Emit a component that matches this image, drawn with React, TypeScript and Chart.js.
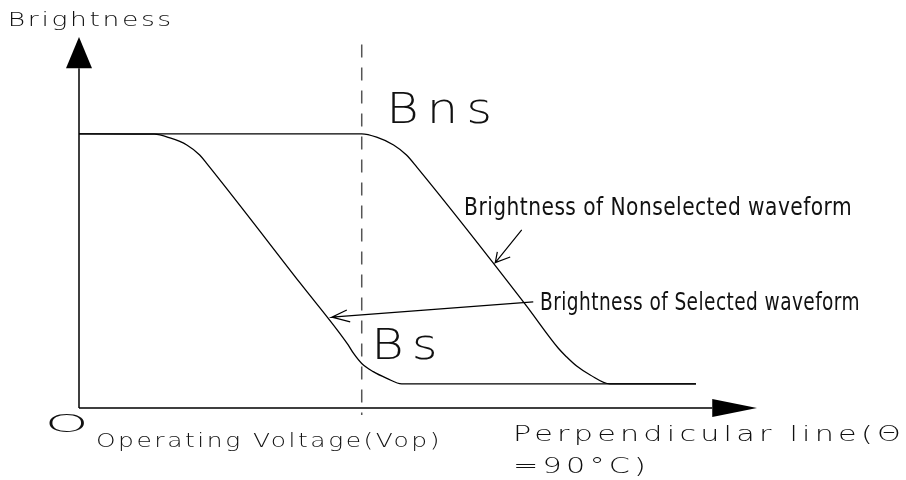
import React, { useEffect, useRef } from "react";
import { Chart, registerables } from "chart.js";

Chart.register(...registerables);

// Brightness curves (x: operating voltage, y: brightness; both 0..100)
const selectedX = [0, 11.1, 13.4, 15.9, 17.8, 18.8, 32.6, 39.7, 40.5, 41.7, 43.4, 45.4, 47.6, 91.0];
const selectedY = [73.9, 73.8, 72.8, 70.9, 68.2, 66.0, 33.7, 17.0, 14.7, 12.0, 9.8, 8.0, 6.5, 6.5];
const nonselectedX = [0, 41.7, 43.9, 46.4, 48.3, 49.8, 65.8, 70.7, 71.9, 73.4, 75.4, 78.3, 91.0];
const nonselectedY = [73.9, 73.9, 73.0, 70.9, 68.2, 65.0, 28.0, 16.1, 13.8, 11.3, 8.9, 6.5, 6.5];
const operatingVoltage = [41.7];
const axisMax = [100, 100];

const yTitle = "Brightness";
const bnsLabel = "Bns";
const bsLabel = "Bs";
const nonselLabel = "Brightness of Nonselected waveform";
const selLabel = "Brightness of Selected waveform";
const originLabel = "O";
const xLabel1 = "Operating Voltage(Vop)";
const xLabel2 = "Perpendicular line(\u0398";
const xLabel3 = "=90\u00B0C)";

const CAD = '"DejaVu Sans", sans-serif';
const NARROW = '"DejaVu Sans Condensed", "Liberation Sans", sans-serif';

const diagramPlugin = {
  id: "diagram",
  afterDatasetsDraw(chart: any) {
    const { ctx, scales } = chart;
    const px = (v: number) => scales.x.getPixelForValue(v);
    const py = (v: number) => scales.y.getPixelForValue(v);
    ctx.save();
    ctx.strokeStyle = "#000";
    ctx.fillStyle = "#000";
    ctx.lineWidth = 1.5;
    // axes
    ctx.beginPath();
    ctx.moveTo(px(0), py(0));
    ctx.lineTo(px(93.4), py(0));
    ctx.moveTo(px(0), py(0));
    ctx.lineTo(px(0), py(91.6));
    ctx.stroke();
    ctx.beginPath();
    ctx.moveTo(px(0), py(axisMax[1]));
    ctx.lineTo(px(0) - 13, py(91.6));
    ctx.lineTo(px(0) + 13, py(91.6));
    ctx.closePath();
    ctx.fill();
    ctx.beginPath();
    ctx.moveTo(px(axisMax[0]), py(0));
    ctx.lineTo(px(93.4), py(0) - 9);
    ctx.lineTo(px(93.4), py(0) + 9);
    ctx.closePath();
    ctx.fill();
    // dashed operating voltage line
    ctx.save();
    ctx.setLineDash([13, 10]);
    ctx.strokeStyle = "#555";
    ctx.lineWidth = 1.5;
    ctx.beginPath();
    ctx.moveTo(px(operatingVoltage[0]), py(98.0));
    ctx.lineTo(px(operatingVoltage[0]), py(-1.9));
    ctx.stroke();
    ctx.restore();
    // annotation arrows
    ctx.lineWidth = 1.2;
    ctx.beginPath();
    ctx.moveTo(px(65.3), py(48.0));
    ctx.lineTo(px(61.4), py(39.2));
    ctx.lineTo(px(63.6), py(40.7));
    ctx.moveTo(px(61.4), py(39.2));
    ctx.lineTo(px(61.7), py(42.1));
    ctx.moveTo(px(67.0), py(28.6));
    ctx.lineTo(px(37.3), py(24.5));
    ctx.lineTo(px(39.5), py(26.4));
    ctx.moveTo(px(37.3), py(24.5));
    ctx.lineTo(px(40.0), py(23.2));
    ctx.stroke();
    // texts
    ctx.textBaseline = "alphabetic";
    ctx.textAlign = "left";
    const scaleFor = (s: string, font: string, ls: number, width: number) => {
      ctx.save();
      ctx.font = font;
      (ctx as any).letterSpacing = ls + "px";
      const w = ctx.measureText(s).width;
      ctx.restore();
      return width / w;
    };
    const txt = (s: string, x: number, y: number, font: string, ls: number, sx: number) => {
      ctx.save();
      ctx.font = font;
      (ctx as any).letterSpacing = ls + "px";
      ctx.fillStyle = "#111";
      ctx.translate(px(x), py(y));
      ctx.scale(sx, 1);
      ctx.fillText(s, 0, 0);
      ctx.restore();
    };
    const fTitle = `200 20px ${CAD}`;
    txt(yTitle, -10.5, 103.0, fTitle, 2, scaleFor(yTitle, fTitle, 2, 166));
    const fBig = `200 43px ${CAD}`;
    const sBig = scaleFor(bnsLabel, fBig, 7, 114);
    txt(bnsLabel, 45.3, 76.8, fBig, 7, sBig);
    txt(bsLabel, 43.1, 13.2, fBig, 7, sBig);
    const fNar = `24px ${NARROW}`;
    txt(nonselLabel, 56.8, 52.0, fNar, 0.5, scaleFor(nonselLabel, fNar, 0.5, 388));
    txt(selLabel, 68.0, 26.4, fNar, 0.5, scaleFor(selLabel, fNar, 0.5, 320));
    const fOp = `200 19.5px ${CAD}`;
    txt(xLabel1, 2.5, -10.5, fOp, 2, scaleFor(xLabel1, fOp, 2, 346));
    const fPer = `200 21.5px ${CAD}`;
    const sPer = scaleFor(xLabel2, fPer, 3, 392);
    txt(xLabel2, 64.0, -8.9, fPer, 3, sPer);
    txt(xLabel3, 64.0, -17.5, fPer, 3, sPer);
    // origin "O" (wide CAD letter)
    ctx.save();
    ctx.font = `200 24px ${CAD}`;
    (ctx as any).letterSpacing = "0px";
    ctx.fillStyle = "#111";
    ctx.translate(px(-1.8), py(-4.9));
    ctx.scale(2.3, 1);
    ctx.textAlign = "center";
    ctx.textBaseline = "middle";
    ctx.fillText(originLabel, 0, 0);
    ctx.restore();
    ctx.restore();
  },
};

export default function App() {
  const ref = useRef<HTMLCanvasElement>(null);
  useEffect(() => {
    const toPts = (xs: number[], ys: number[]) => xs.map((x, i) => ({ x, y: ys[i] }));
    const chart = new Chart(ref.current as HTMLCanvasElement, {
      type: "scatter",
      data: {
        datasets: [
          {
            label: "Brightness of Selected waveform",
            data: toPts(selectedX, selectedY),
            showLine: true,
            borderColor: "#000",
            borderWidth: 1.3,
            pointRadius: 0,
            cubicInterpolationMode: "monotone",
            clip: false as any,
          },
          {
            label: "Brightness of Nonselected waveform",
            data: toPts(nonselectedX, nonselectedY),
            showLine: true,
            borderColor: "#000",
            borderWidth: 1.3,
            pointRadius: 0,
            cubicInterpolationMode: "monotone",
            clip: false as any,
          },
        ],
      },
      options: {
        responsive: false,
        animation: false,
        devicePixelRatio: 1,
        layout: { padding: { left: 79, right: 149, top: 37, bottom: 72 } },
        scales: {
          x: { type: "linear", min: 0, max: axisMax[0], display: false },
          y: { type: "linear", min: 0, max: axisMax[1], display: false },
        },
        plugins: { legend: { display: false }, tooltip: { enabled: false } },
        events: [],
      },
      plugins: [diagramPlugin],
    });
    return () => chart.destroy();
  }, []);
  return (
    <div style={{ position: "absolute", left: 0, top: 0, width: 906, height: 480, background: "#fff" }}>
      <canvas ref={ref} width={906} height={480} />
    </div>
  );
}
